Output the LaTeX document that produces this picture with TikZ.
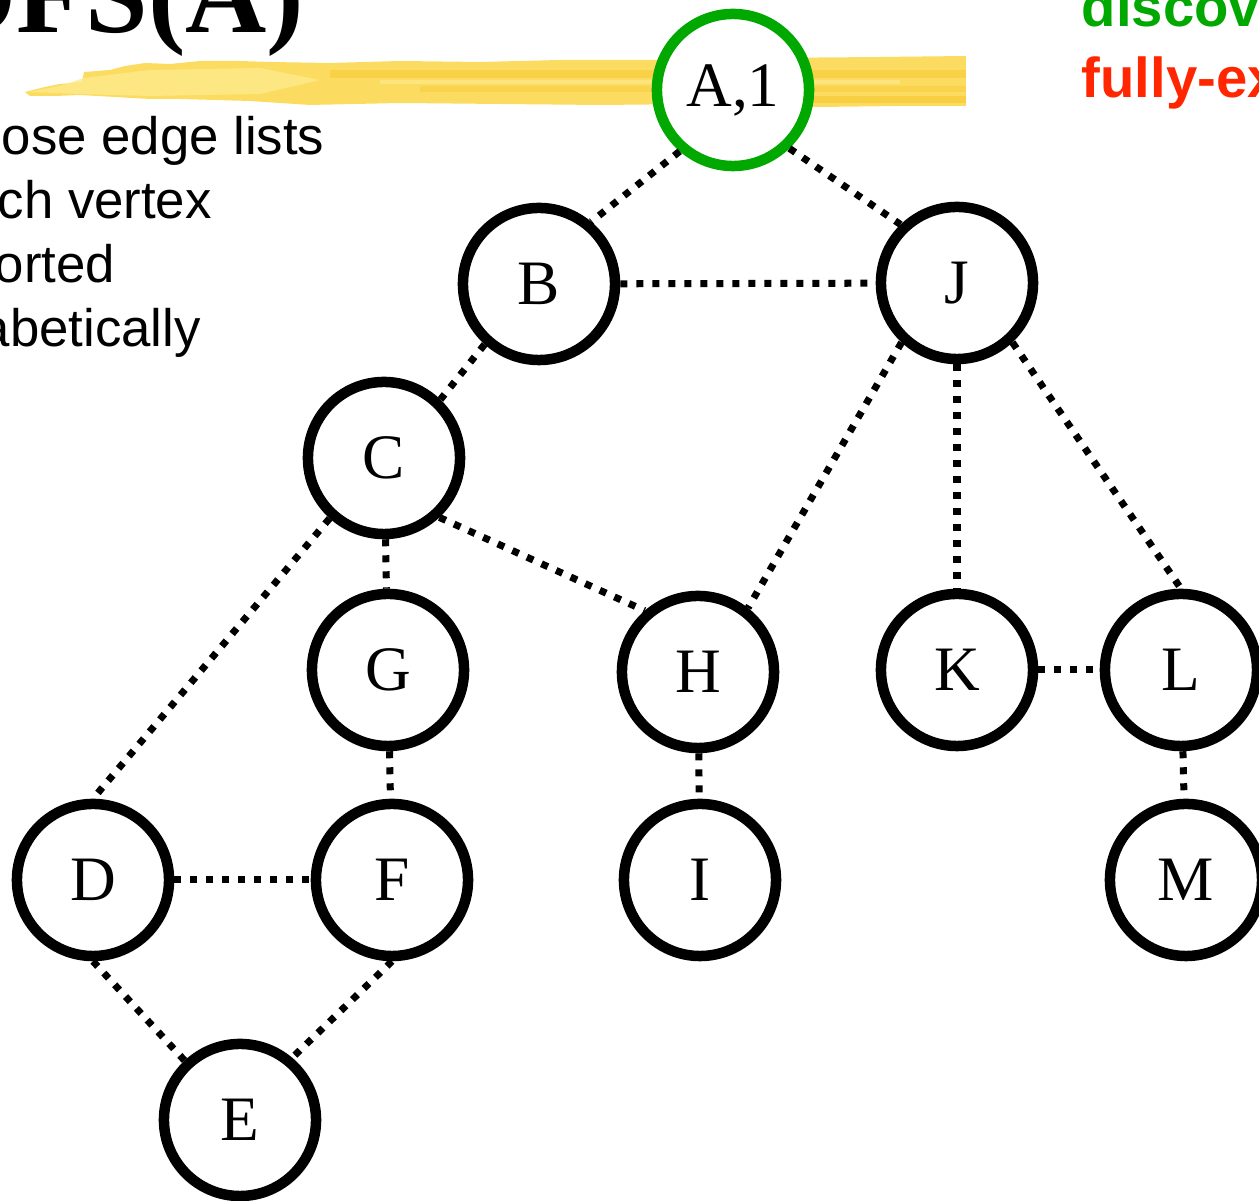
\documentclass[tikz,border=0pt]{standalone}
\usepackage{fontspec}
\setmainfont{Liberation Serif}
\setsansfont{Liberation Sans}
\definecolor{visitgreen}{RGB}{0,168,0}
\definecolor{donered}{RGB}{255,38,0}
\definecolor{hilite}{RGB}{252,220,96}
\definecolor{hilitedark}{RGB}{245,196,40}
\definecolor{hilitelight}{RGB}{254,234,140}

\begin{document}
\begin{tikzpicture}[x=0.01cm, y=-0.01cm,
    vertex/.style={circle, draw=black, line width=0.105cm, minimum size=1.52cm,
        inner sep=0pt, fill=white, font=\fontsize{18}{20}\selectfont},
    found/.style={vertex, draw=visitgreen},
    edge/.style={line width=0.07cm, dash pattern=on 0.07cm off 0.09cm},
    bullet/.style={anchor=base west, inner sep=0pt, font=\sffamily\fontsize{15}{18}\selectfont},
    legend/.style={anchor=base west, inner sep=0pt, font=\sffamily\bfseries\fontsize{16}{18}\selectfont}]
    \useasboundingbox (0,0) rectangle (1259,1201);

    % Heading and highlighter stroke
    \node[anchor=base east, inner sep=0pt, font=\bfseries\fontsize{32}{36}\selectfont] (title) at (305,33) {DFS(A)};
    \fill[hilite] (25,92) -- (45,87) -- (60,84) -- (82,82) -- (84,72) -- (110,70) -- (125,66)
        -- (145,63) -- (170,64) -- (200,61) -- (240,61) -- (270,62) -- (330,63) -- (400,61)
        -- (480,62) -- (560,60) -- (650,60) -- (760,58) -- (880,57) -- (966,56) -- (966,106)
        -- (900,106) -- (820,107) -- (700,104) -- (600,105) -- (500,104) -- (400,103)
        -- (310,105) -- (250,101) -- (180,99) -- (150,99) -- (80,95) -- (55,96) -- (30,96) -- cycle;
    \fill[hilitelight, opacity=0.8] (28,92) -- (60,86) -- (84,78) -- (150,70) -- (260,68)
        -- (320,80) -- (260,94) -- (150,96) -- (80,94) -- cycle;
    \fill[hilitedark, opacity=0.45] (330,70) rectangle (966,78);
    \fill[hilitedark, opacity=0.35] (420,86) rectangle (966,92);
    \fill[hilitedark, opacity=0.5] (700,96) rectangle (966,103);
    \fill[hilitelight, opacity=0.7] (380,80) rectangle (900,84);

    % Side notes
    \node[bullet] (n1) at (1,155) {ose edge lists};
    \node[bullet] (n2) at (-3,219) {ch vertex};
    \node[bullet] (n3) at (-6,283) {orted};
    \node[bullet] (n4) at (-20,347) {abetically};
    \node[legend, text=visitgreen] (lg1) at (1081,27) {discove};
    \node[legend, text=donered] (lg2) at (1081,98) {fully-ex};

    % Vertices
    \node[found] (A) at (733,90) {A,1};
    \node[vertex] (B) at (539,284) {B};
    \node[vertex] (J) at (957,283) {J};
    \node[vertex] (C) at (384,458) {C};
    \node[vertex] (G) at (388,670) {G};
    \node[vertex] (H) at (698,672) {H};
    \node[vertex] (K) at (957,670) {K};
    \node[vertex] (L) at (1181,670) {L};
    \node[vertex] (D) at (93,880) {D};
    \node[vertex] (F) at (392,880) {F};
    \node[vertex] (I) at (700,880) {I};
    \node[vertex] (M) at (1186,880) {M};
    \node[vertex] (E) at (240,1120) {E};

    % Edges (not yet explored)
    \draw[edge] (A.229) -- (B.50);
    \draw[edge] (A.-46) -- (J.134);
    \draw[edge] (B) -- (J);
    \draw[edge] (B.228) -- (C.46);
    \draw[edge] (C.228) -- (D.north);
    \draw[edge] (C) -- (G);
    \draw[edge] (C.-47) -- (H.131);
    \draw[edge] (J.227) -- (H.52);
    \draw[edge] (J) -- (K);
    \draw[edge] (J.-47) -- (L.north);
    \draw[edge] (K) -- (L);
    \draw[edge] (L) -- (M);
    \draw[edge] (G) -- (F);
    \draw[edge] (H) -- (I);
    \draw[edge] (D) -- (F);
    \draw[edge] (D.south) -- (E.133);
    \draw[edge] (F.south) -- (E.50);
\end{tikzpicture}
\end{document}
